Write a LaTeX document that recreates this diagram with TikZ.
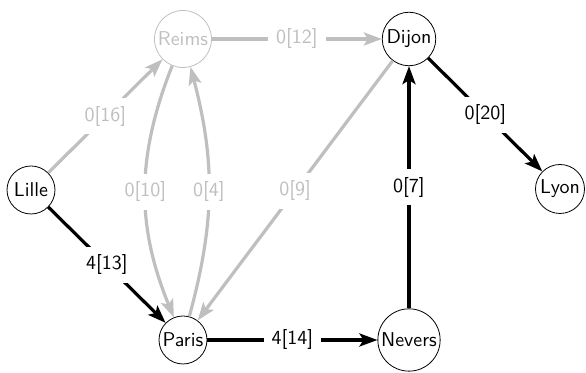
\documentclass[tikz,border=0pt]{standalone}
\usepackage{tikz}
\usetikzlibrary{arrows.meta}

\begin{document}
\begin{tikzpicture}[x=0.5pt,y=0.5pt,font=\sffamily,
    city/.style={circle,draw,thin,inner sep=1pt,minimum size=24pt},
    flow/.style={line width=1.6pt,-{Stealth[length=9pt,width=6.5pt,inset=2pt]}},
    muted/.style={black!25},
    wt/.style={fill=white,inner sep=4pt}]
  \useasboundingbox (0,0) rectangle (586,373);
  % cities
  \node[city,muted] (reims)  at (183,334) {Reims};
  \node[city]       (dijon)  at (409,334) {Dijon};
  \node[city]       (lille)  at (31,183)  {Lille};
  \node[city]       (lyon)   at (560,184) {Lyon};
  \node[city]       (paris)  at (183,33)  {Paris};
  \node[city]       (nevers) at (409,33)  {Nevers};
  % unused arcs
  \draw[flow,muted] (lille) -- node[wt] {0[16]} (reims);
  \draw[flow,muted] (reims) -- node[wt] {0[12]} (dijon);
  \draw[flow,muted] (reims) to[bend right=22] node[wt] {0[10]} (paris);
  \draw[flow,muted] (paris) to[bend right=15] node[wt] {0[4]} (reims);
  \draw[flow,muted] (dijon) -- node[wt] {0[9]} (paris);
  % used arcs
  \draw[flow] (lille)  -- node[wt] {4[13]} (paris);
  \draw[flow] (paris)  -- node[wt] {4[14]} (nevers);
  \draw[flow] (nevers) -- node[wt] {0[7]}  (dijon);
  \draw[flow] (dijon)  -- node[wt] {0[20]} (lyon);
\end{tikzpicture}
\end{document}
